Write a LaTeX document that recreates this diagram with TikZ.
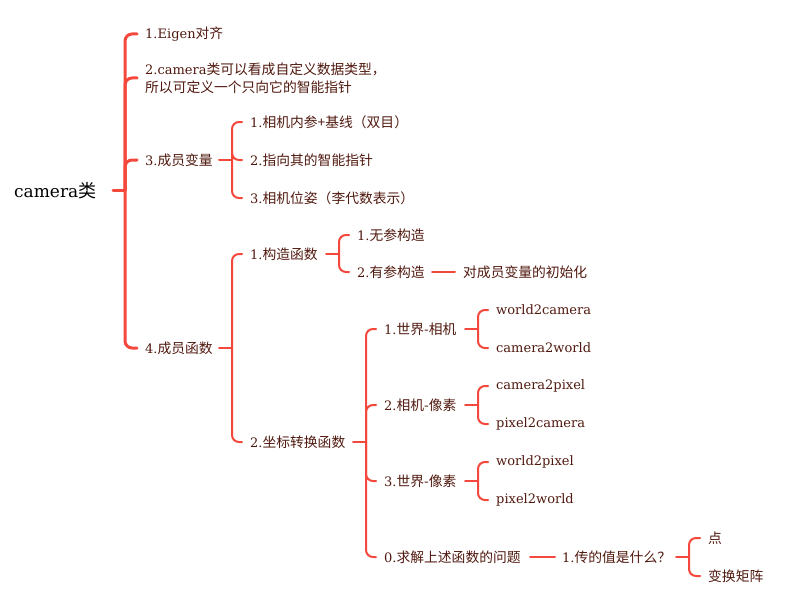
\documentclass[tikz,border=0pt]{standalone}
\usepackage{fontspec}
\setmainfont{DejaVu Serif}
\newfontfamily\cjkf[Scale=1.06]{Noto Sans CJK SC}
\newcommand\zh[1]{{\cjkf #1}}
\definecolor{lin}{RGB}{245,72,60}
\definecolor{txt}{RGB}{80,25,15}
\begin{document}
\begin{tikzpicture}[x=1pt,y=-1pt,
  t/.style={anchor=west,inner sep=0pt,text=txt,font=\fontsize{13}{18}\selectfont,align=left},
  rt/.style={anchor=west,inner sep=0pt,text=black,font=\fontsize{17}{20}\selectfont},
  br/.style={draw=lin,line width=2pt,rounded corners=7pt,line cap=round},
  brr/.style={br,line width=3pt}]
\useasboundingbox (0,0) rectangle (793,602);
% nodes
\node[rt] (root) at (14,191) {camera\zh{类}};
\node[t] (a1) at (145,34) {1.Eigen\zh{对齐}};
\node[t] (a2) at (145,78) {2.camera\zh{类可以看成自定义数据类型，}\\\zh{所以可定义一个只向它的智能指针}};
\node[t] (a3) at (145,160) {3.\zh{成员变量}};
\node[t] (a4) at (145,348) {4.\zh{成员函数}};
\node[t] (b1) at (250,122) {1.\zh{相机内参+基线（双目）}};
\node[t] (b2) at (250,160) {2.\zh{指向其的智能指针}};
\node[t] (b3) at (250,198) {3.\zh{相机位姿（李代数表示）}};
\node[t] (c1) at (250,254) {1.\zh{构造函数}};
\node[t] (c2) at (250,442) {2.\zh{坐标转换函数}};
\node[t] (d1) at (357,235) {1.\zh{无参构造}};
\node[t] (d2) at (357,272) {2.\zh{有参构造}};
\node[t] (d3) at (463,272) {\zh{对成员变量的初始化}};
\node[t] (e1) at (384,329) {1.\zh{世界-相机}};
\node[t] (e2) at (384,405) {2.\zh{相机-像素}};
\node[t] (e3) at (384,481) {3.\zh{世界-像素}};
\node[t] (e4) at (384,557) {0.\zh{求解上述函数的问题}};
\node[t] (f1) at (496,310) {world2camera};
\node[t] (f2) at (496,348) {camera2world};
\node[t] (f3) at (496,386) {camera2pixel};
\node[t] (f4) at (496,424) {pixel2camera};
\node[t] (f5) at (496,462) {world2pixel};
\node[t] (f6) at (496,500) {pixel2world};
\node[t] (g1) at (562,557) {1.\zh{传的值是什么？}};
\node[t] (h1) at (708,538) {\zh{点}};
\node[t] (h2) at (708,576) {\zh{变换矩阵}};
% junctions
\coordinate (j0) at (125,190);
\coordinate (j3) at (232,0 |- a3.west);
\coordinate (j4) at (232,0 |- a4.west);
\coordinate (jc1) at (339,0 |- c1.west);
\coordinate (jc2) at (366,0 |- c2.west);
\coordinate (je1) at (478,0 |- e1.west);
\coordinate (je2) at (478,0 |- e2.west);
\coordinate (je3) at (478,0 |- e3.west);
\coordinate (jg) at (689,0 |- g1.west);
% root
\draw[brr] (113,190) -- (j0);
\foreach \c in {a1,a2,a3,a4} \draw[brr] (j0) |- ([xshift=-8pt]\c.west);
% 3
\draw[br] (219,0 |- a3.west) -- (j3);
\foreach \c in {b1,b2,b3} \draw[br] (j3) |- ([xshift=-8pt]\c.west);
% 4
\draw[br] (219,0 |- a4.west) -- (j4);
\foreach \c in {c1,c2} \draw[br] (j4) |- ([xshift=-8pt]\c.west);
% c1
\draw[br] (326,0 |- c1.west) -- (jc1);
\foreach \c in {d1,d2} \draw[br] (jc1) |- ([xshift=-8pt]\c.west);
\draw[br] (432,0 |- d2.west) -- ([xshift=-8pt]d3.west);
% c2
\draw[br] (353,0 |- c2.west) -- (jc2);
\foreach \c in {e1,e2,e3,e4} \draw[br] (jc2) |- ([xshift=-8pt]\c.west);
% e's
\draw[br] (465,0 |- e1.west) -- (je1);
\foreach \c in {f1,f2} \draw[br] (je1) |- ([xshift=-8pt]\c.west);
\draw[br] (465,0 |- e2.west) -- (je2);
\foreach \c in {f3,f4} \draw[br] (je2) |- ([xshift=-8pt]\c.west);
\draw[br] (465,0 |- e3.west) -- (je3);
\foreach \c in {f5,f6} \draw[br] (je3) |- ([xshift=-8pt]\c.west);
\draw[br] (530,0 |- e4.west) -- ([xshift=-7pt]g1.west);
\draw[br] (676,0 |- g1.west) -- (jg);
\foreach \c in {h1,h2} \draw[br] (jg) |- ([xshift=-8pt]\c.west);
\end{tikzpicture}
\end{document}
